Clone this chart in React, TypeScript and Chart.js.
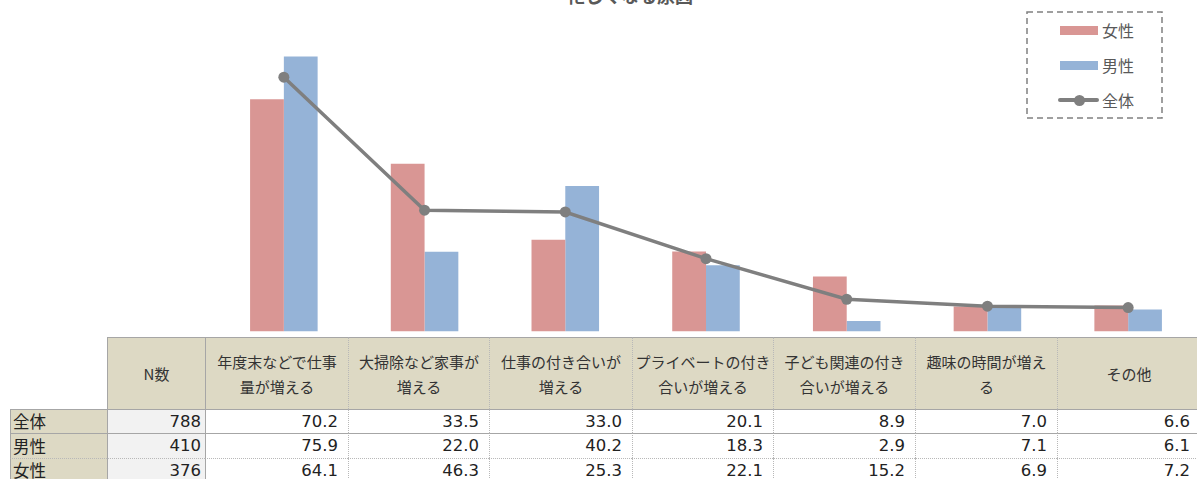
import React, { useEffect, useRef } from "react";
import Chart from "chart.js/auto";

// ---- data ----
const categoryLines: string[][] = [
  ["年度末などで仕事", "量が増える"],
  ["大掃除など家事が", "増える"],
  ["仕事の付き合いが", "増える"],
  ["プライベートの付き", "合いが増える"],
  ["子ども関連の付き", "合いが増える"],
  ["趣味の時間が増え", "る"],
  ["その他"],
];
const categories = categoryLines.map((l) => l.join(""));
const totalValues = [70.2, 33.5, 33.0, 20.1, 8.9, 7.0, 6.6];
const maleValues = [75.9, 22.0, 40.2, 18.3, 2.9, 7.1, 6.1];
const femaleValues = [64.1, 46.3, 25.3, 22.1, 15.2, 6.9, 7.2];
const rowLabels = ["全体", "男性", "女性"];
const nCounts = [788, 410, 376];
const nHeader = "N数";
const title = "忙しくなる原因";
const legendLabels = ["女性", "男性", "全体"];

// ---- style ----
const FEMALE = "#d99694";
const MALE = "#95b3d7";
const TOTAL = "#7f7f7f";
const TAN = "#ddd9c4";
const JP = '"Noto Sans CJK JP", "Noto Sans", sans-serif';
const NUM = '"DejaVu Sans", sans-serif';

const colEdges = [10, 107, 205, 348, 489, 632, 773, 915, 1057, 1200];
const headerTop = 337;
const headerBottom = 409;
const rowEdges = [409, 433, 458, 482];

export default function App() {
  const ref = useRef<HTMLCanvasElement | null>(null);

  useEffect(() => {
    if (!ref.current) return;
    const chart = new Chart(ref.current, {
      data: {
        labels: categories,
        datasets: [
          {
            type: "line",
            label: legendLabels[2],
            data: totalValues,
            borderColor: TOTAL,
            backgroundColor: TOTAL,
            borderWidth: 3.5,
            pointRadius: 5.5,
            pointHoverRadius: 5.5,
            pointBackgroundColor: TOTAL,
            pointBorderWidth: 0,
            order: 0,
          },
          {
            type: "bar",
            label: legendLabels[0],
            data: femaleValues,
            backgroundColor: FEMALE,
            categoryPercentage: 0.48,
            barPercentage: 1,
            order: 1,
          },
          {
            type: "bar",
            label: legendLabels[1],
            data: maleValues,
            backgroundColor: MALE,
            categoryPercentage: 0.48,
            barPercentage: 1,
            order: 1,
          },
        ],
      } as any,
      options: {
        animation: false,
        responsive: false,
        maintainAspectRatio: false,
        layout: { padding: { left: 213.5, right: 0.5, top: 1.5, bottom: 1 } },
        plugins: { legend: { display: false }, title: { display: false }, tooltip: { enabled: false } },
        scales: {
          x: { display: false, offset: true },
          y: { display: false, min: 0, max: 90 },
        },
      },
    });
    return () => chart.destroy();
  }, []);

  const solid = "1px solid #a6a6a6";
  const dotted = "1px dotted #b8b8b8";

  const cells: React.ReactNode[] = [];
  // header row
  for (let c = 1; c < colEdges.length - 1; c++) {
    const left = colEdges[c];
    const w = colEdges[c + 1] - left;
    const lines = c === 1 ? [nHeader] : categoryLines[c - 2];
    cells.push(
      <div
        key={"h" + c}
        style={{
          position: "absolute",
          left,
          top: headerTop,
          width: w,
          height: headerBottom - headerTop,
          background: TAN,
          borderTop: solid,
          borderLeft: c <= 2 ? solid : dotted,
          boxSizing: "border-box",
          display: "flex",
          flexDirection: "column",
          justifyContent: "center",
          alignItems: "center",
          fontFamily: JP,
          fontSize: 15,
          lineHeight: "25px",
          color: "#333",
          whiteSpace: "nowrap",
        }}
      >
        {lines.map((t, i) => (
          <div key={i}>{t}</div>
        ))}
      </div>
    );
  }
  // data rows
  const seriesRows = [totalValues, maleValues, femaleValues];
  for (let r = 0; r < 3; r++) {
    const top = rowEdges[r];
    const h = rowEdges[r + 1] - top;
    const bTop = r === 2 ? dotted : solid;
    for (let c = 0; c < colEdges.length - 1; c++) {
      const left = colEdges[c];
      const w = colEdges[c + 1] - left;
      let text = "";
      let bg = "#ffffff";
      let align: "left" | "right" = "right";
      let font = NUM;
      let pr = 10;
      if (c === 0) {
        text = rowLabels[r];
        bg = TAN;
        align = "left";
        font = JP;
      } else if (c === 1) {
        text = String(nCounts[r]);
        bg = "#f2f2f2";
        pr = 4;
      } else {
        text = seriesRows[r][c - 2].toFixed(1);
      }
      cells.push(
        <div
          key={"r" + r + "c" + c}
          style={{
            position: "absolute",
            left,
            top,
            width: w,
            height: h,
            background: bg,
            borderTop: bTop,
            borderLeft: c <= 2 ? solid : dotted,
            boxSizing: "border-box",
            fontFamily: font,
            fontSize: 16.5,
            lineHeight: h - 1 + "px",
            textAlign: align,
            paddingRight: align === "right" ? pr : 0,
            paddingLeft: align === "left" ? 2 : 0,
            color: "#222",
            whiteSpace: "nowrap",
          }}
        >
          {text}
        </div>
      );
    }
  }

  const legendRow = (i: number, top: number) => (
    <div key={"lg" + i} style={{ position: "absolute", left: 1058, top: top - 12, height: 24, width: 100 }}>
      {i < 2 ? (
        <div
          style={{
            position: "absolute",
            left: 2,
            top: 7.5,
            width: 38,
            height: 9,
            background: i === 0 ? FEMALE : MALE,
          }}
        />
      ) : (
        <>
          <div style={{ position: "absolute", left: 0, top: 10, width: 41, height: 4, background: TOTAL, borderRadius: 2 }} />
          <div style={{ position: "absolute", left: 15.5, top: 6.5, width: 11, height: 11, borderRadius: "50%", background: TOTAL }} />
        </>
      )}
      <div
        style={{
          position: "absolute",
          left: 44,
          top: 0,
          lineHeight: "24px",
          fontFamily: JP,
          fontSize: 16,
          color: "#595959",
          whiteSpace: "nowrap",
        }}
      >
        {legendLabels[i]}
      </div>
    </div>
  );

  return (
    <div style={{ position: "absolute", left: 0, top: 0, width: 1197, height: 479, overflow: "hidden", background: "#fff" }}>
      <div
        style={{
          position: "absolute",
          left: 530,
          width: 200,
          top: -14,
          textAlign: "center",
          fontFamily: JP,
          fontWeight: "bold",
          fontSize: 18,
          lineHeight: "18px",
          color: "#595959",
          whiteSpace: "nowrap",
        }}
      >
        {title}
      </div>
      <canvas ref={ref} width={1204} height={337} style={{ position: "absolute", left: 0, top: 0, width: 1204, height: 337 }} />
      <svg style={{ position: "absolute", left: 1025, top: 10 }} width={140} height={111}>
        <rect x={2} y={2} width={135} height={106} fill="#fff" stroke="#808080" strokeWidth={1.5} strokeDasharray="6 4" />
      </svg>
      {legendRow(0, 30)}
      {legendRow(1, 65)}
      {legendRow(2, 100)}
      {cells}
    </div>
  );
}
